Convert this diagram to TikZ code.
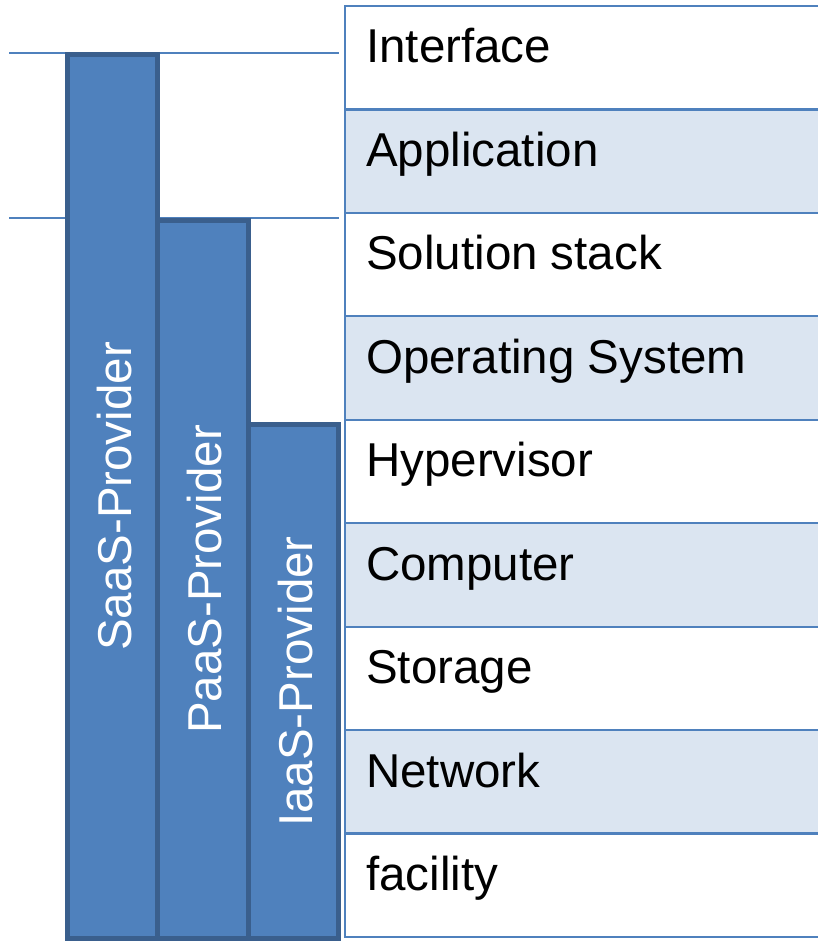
\documentclass[tikz,border=0pt]{standalone}
\usepackage{fontspec}
\setmainfont{Liberation Sans}
\usetikzlibrary{calc}
\definecolor{accent}{HTML}{4F81BD}
\definecolor{barline}{HTML}{3A5F8D}
\definecolor{rowlight}{HTML}{DBE5F1}
\tikzset{
  rowbox/.style={rectangle, anchor=north west, minimum width=474pt, minimum height=103.44pt, inner sep=0pt, outer sep=0pt, draw=accent, line width=2.2pt},
  rowtext/.style={anchor=base west, inner sep=0pt, font=\fontsize{47.5}{56}\selectfont, text=black},
  bar/.style={rectangle, anchor=south west, inner sep=0pt, outer sep=0pt, draw=barline, fill=accent, line width=5pt},
  bartext/.style={rotate=90, inner sep=0pt, font=\fontsize{47.5}{56}\selectfont, text=white},
  guide/.style={draw=accent, line width=1.5pt}
}
\begin{document}
\begin{tikzpicture}[x=1pt,y=-1pt]
\useasboundingbox (0,0) rectangle (818,941);
\begin{scope}
\clip (0,0) rectangle (818,941);
% table rows
\foreach \i/\lab/\col in {0/Interface/white,1/Application/rowlight,2/Solution stack/white,3/Operating System/rowlight,4/Hypervisor/white,5/Computer/rowlight,6/Storage/white,7/Network/rowlight,8/facility/white}{
  \node[rowbox, fill=\col] (row\i) at (345,{6+\i*103.44}) {};
  \node[rowtext] (txt\i) at ($(row\i.north west)+(21,57)$) {\lab};
}
\end{scope}
% guide lines
\coordinate (g1a) at (9,53);
\coordinate (g1b) at (339,53);
\coordinate (g2a) at (9,218);
\coordinate (g2b) at (339,218);
\draw[guide] (g1a) -- (g1b);
\draw[guide] (g2a) -- (g2b);
% provider bars
\node[bar, minimum width=90pt, minimum height=884pt] (saas) at (67.5,938.5) {};
\node[bar, minimum width=90.5pt, minimum height=718pt] (paas) at (157.5,938.5) {};
\node[bar, minimum width=90.5pt, minimum height=514pt] (iaas) at (248,938.5) {};
\node[bartext] (saast) at ($(saas.center)+(2,0)$) {SaaS-Provider};
\node[bartext] (paast) at ($(paas.center)+(2,0)$) {PaaS-Provider};
\node[bartext] (iaast) at ($(iaas.center)+(2,0)$) {IaaS-Provider};
\end{tikzpicture}
\end{document}
